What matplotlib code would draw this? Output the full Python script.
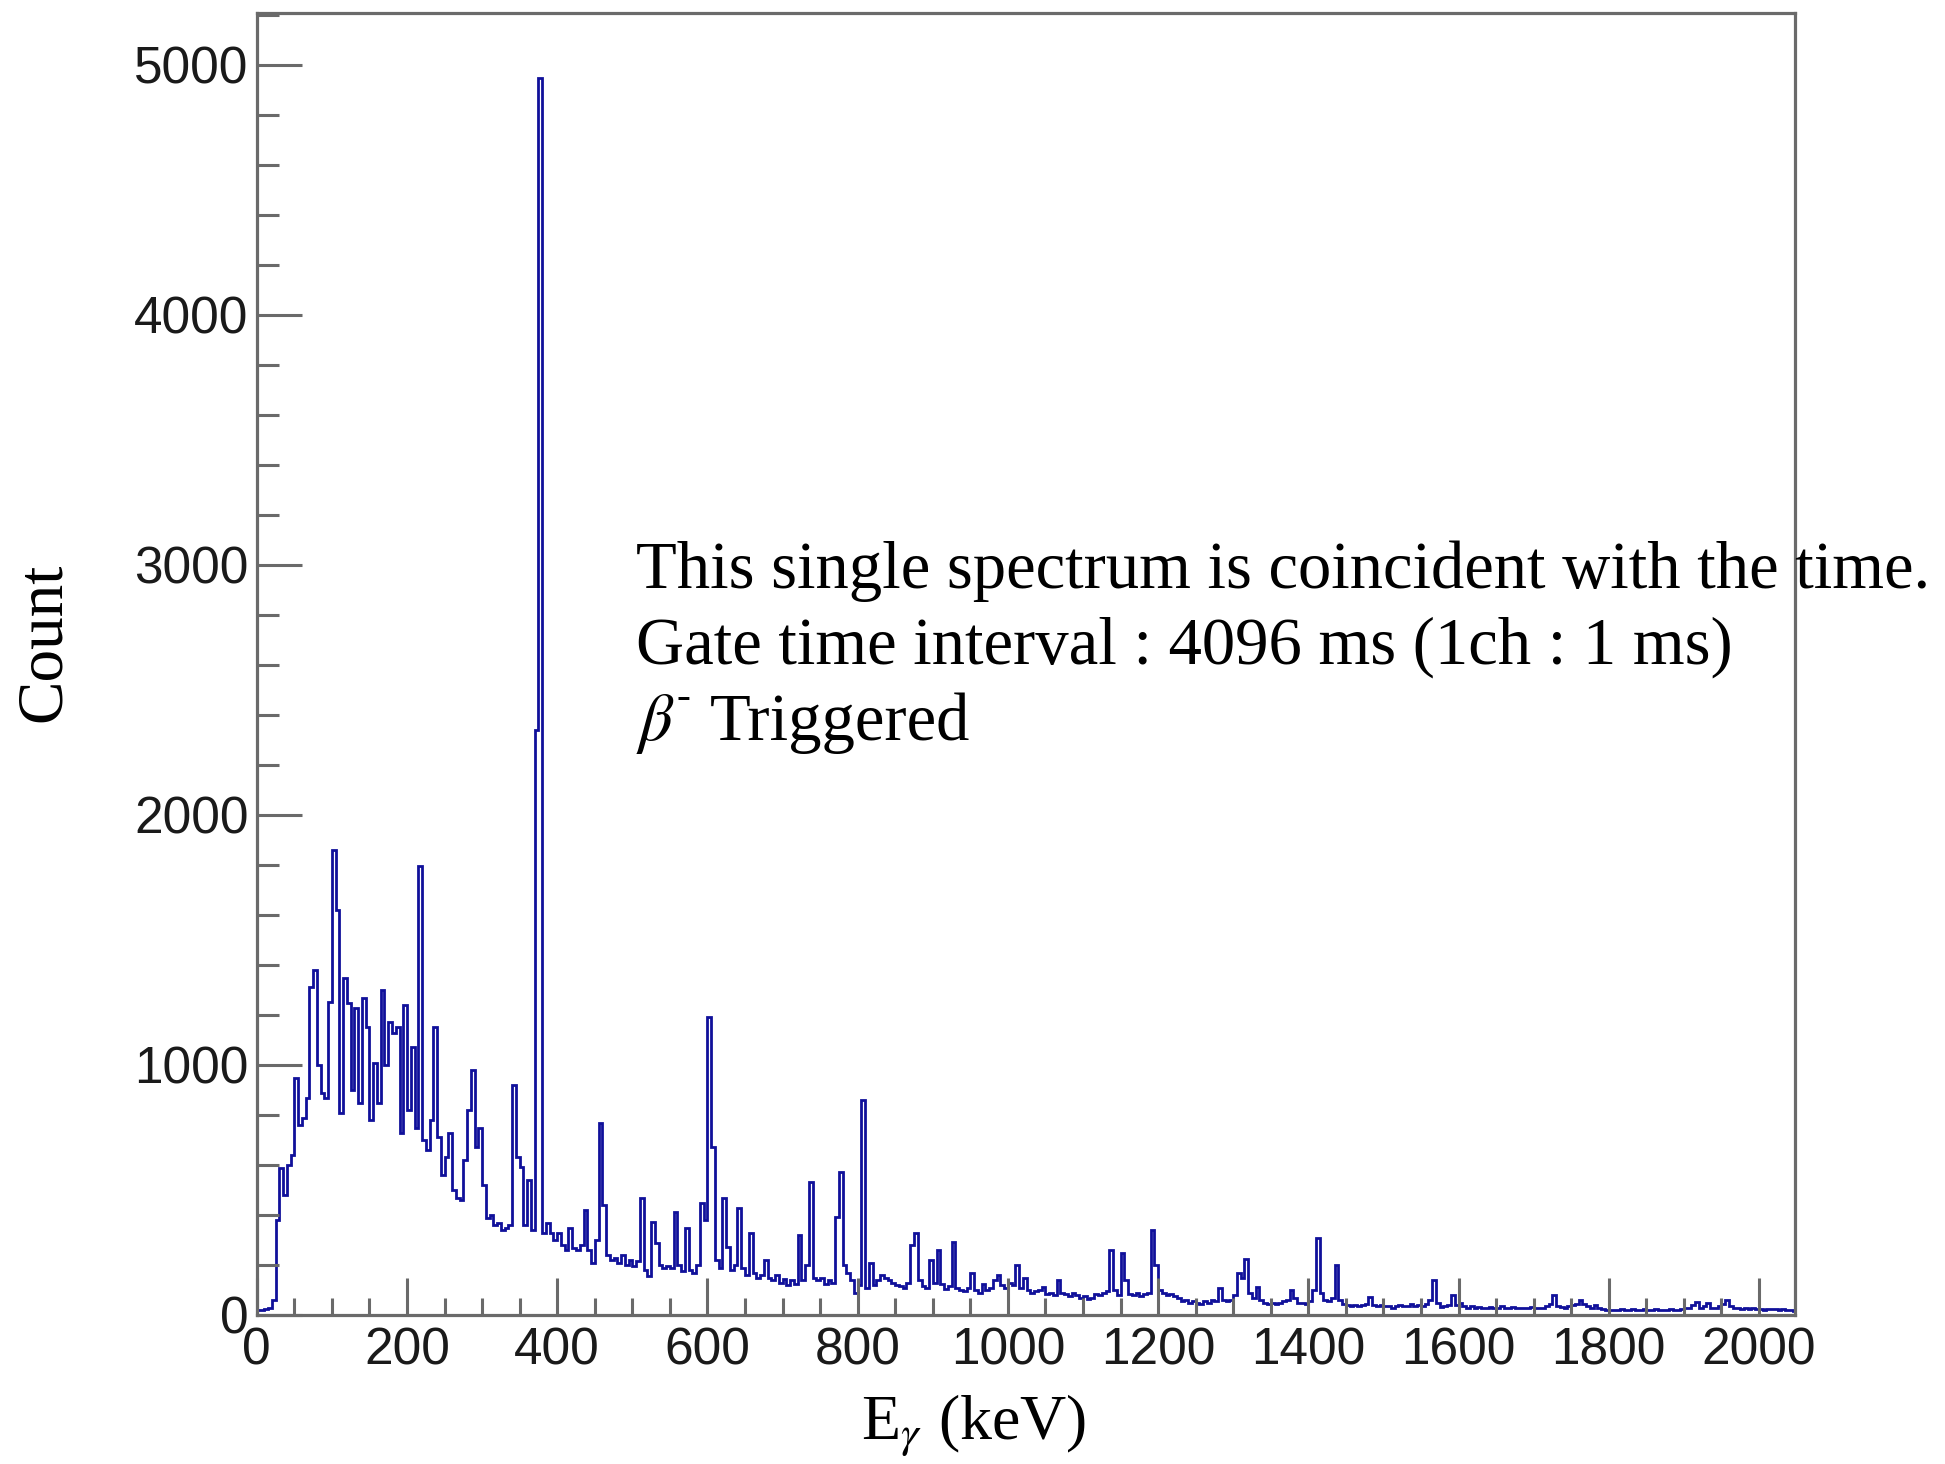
import numpy as np
import matplotlib
matplotlib.use("Agg")
import matplotlib.pyplot as plt
from matplotlib.ticker import MultipleLocator

# ---------------- data (5 keV bins) ----------------
bin_width_keV = 5
counts_0_500 = [
    20, 22, 25, 28, 60, 380, 590, 480, 600, 640,
    950, 760, 790, 870, 1313, 1380, 1000, 890, 870, 1253,
    1860, 1620, 810, 1347, 1247, 900, 1227, 850, 1267, 1153,
    780, 1007, 850, 1300, 1000, 1173, 1127, 1153, 730, 1240,
    820, 1073, 750, 1795, 700, 660, 780, 1153, 713, 560,
    633, 727, 500, 470, 460, 620, 820, 980, 673, 747,
    520, 390, 400, 360, 370, 340, 350, 360, 920, 633,
    593, 360, 540, 340, 2340, 4950, 330, 370, 330, 300,
    330, 280, 260, 350, 270, 260, 280, 420, 260, 210,
    300, 767, 440, 240, 220, 230, 210, 240, 200, 220,
]
counts_500_1000 = [
    195, 215, 467, 180, 155, 373, 287, 200, 190, 195,
    190, 413, 200, 175, 347, 180, 170, 200, 447, 380,
    1193, 673, 220, 190, 467, 273, 180, 200, 427, 190,
    160, 327, 170, 150, 160, 220, 150, 140, 160, 130,
    145, 120, 140, 125, 320, 140, 200, 533, 150, 140,
    150, 125, 140, 130, 393, 573, 200, 170, 140, 90,
    120, 860, 110, 207, 120, 140, 160, 150, 140, 130,
    120, 115, 110, 130, 280, 327, 140, 115, 110, 220,
    130, 260, 125, 105, 115, 293, 110, 100, 95, 110,
    167, 100, 90, 125, 100, 110, 140, 160, 120, 110,
]
counts_1000_1500 = [
    130, 120, 200, 110, 147, 100, 90, 95, 100, 113,
    85, 90, 80, 140, 90, 85, 75, 90, 80, 70,
    75, 65, 70, 85, 80, 90, 95, 260, 100, 80,
    247, 140, 85, 80, 90, 75, 85, 90, 340, 200,
    100, 90, 80, 85, 75, 70, 55, 60, 50, 55,
    50, 45, 55, 50, 60, 55, 107, 60, 55, 60,
    80, 167, 150, 223, 90, 70, 113, 60, 50, 45,
    50, 45, 50, 55, 60, 100, 70, 50, 47, 45,
    55, 100, 310, 87, 60, 55, 70, 200, 60, 45,
    40, 35, 40, 35, 40, 45, 73, 40, 35, 40,
]
counts_1500_2050 = [
    35, 38, 30, 35, 40, 35, 38, 45, 35, 40,
    35, 45, 60, 140, 50, 33, 35, 40, 80, 40,
    50, 35, 30, 35, 30, 32, 28, 30, 33, 28,
    30, 35, 30, 28, 32, 30, 27, 30, 28, 32,
    30, 27, 30, 35, 45, 80, 35, 33, 30, 35,
    40, 45, 60, 45, 35, 30, 40, 30, 25, 22,
    20, 22, 20, 25, 22, 20, 24, 22, 20, 25,
    22, 20, 23, 20, 22, 20, 24, 20, 22, 25,
    30, 28, 40, 53, 30, 35, 47, 30, 28, 35,
    45, 60, 35, 30, 27, 25, 27, 25, 27, 24,
    25, 22, 25, 23, 25, 22, 24, 20, 22, 18,
]
x_tick_values = list(range(0, 2001, 200))
y_tick_values = list(range(0, 5001, 1000))
annotation_lines = [
    "This single spectrum is coincident with the time.",
    "Gate time interval : 4096 ms (1ch : 1 ms)",
]

counts = np.array(counts_0_500 + counts_500_1000 + counts_1000_1500 + counts_1500_2050, dtype=float)
edges = np.arange(len(counts) + 1) * bin_width_keV

# ---------------- figure ----------------
plt.rcParams['mathtext.fontset'] = 'stix'
W, H = 1945, 1464
fig = plt.figure(figsize=(W / 100, H / 100), dpi=100)
L, R, B, T = 256.8, 1795, 1315, 13
ax = fig.add_axes([L / W, 1 - B / H, (R - L) / W, (B - T) / H])

line_color = "#10109a"
ax.stairs(counts, edges, color=line_color, lw=2.0, baseline=None)

ax.set_xlim(0, 2048)
ax.set_ylim(0, 5208)

spine_color = "#6a6a6a"
for s in ax.spines.values():
    s.set_color(spine_color)
    s.set_linewidth(2.3)

ax.set_xticks(x_tick_values)
ax.set_yticks(y_tick_values)
ax.xaxis.set_minor_locator(MultipleLocator(50))
ax.yaxis.set_minor_locator(MultipleLocator(200))
ax.tick_params(axis='both', which='both', direction='in', top=False, right=False,
               color=spine_color, width=2.2, labelcolor="#1a1a1a")
ax.tick_params(axis='x', which='major', length=26.6, pad=8)
ax.tick_params(axis='x', which='minor', length=12.2)
ax.tick_params(axis='y', which='major', length=32.4, pad=6)
ax.tick_params(axis='y', which='minor', length=15.8)
for lab in ax.get_xticklabels() + ax.get_yticklabels():
    lab.set_fontfamily('Liberation Sans')
    lab.set_fontsize(37)

serif = ['Liberation Serif', 'DejaVu Serif']
fig.text(44 / W, 1 - 642 / H, "Count", rotation=90, ha='center', va='center',
         fontsize=47, family=serif)
fig.text(974 / W, 1 - 1440 / H, r"E$_{\gamma}$ (keV)", ha='center', va='baseline',
         fontsize=46, family=serif)

x0 = 636 / W
fig.text(x0, 1 - 588 / H, annotation_lines[0], ha='left', va='baseline', fontsize=48, family=serif)
fig.text(x0, 1 - 664 / H, annotation_lines[1], ha='left', va='baseline', fontsize=48, family=serif)
fig.text(x0, 1 - 740 / H, r"$\beta$", ha='left', va='baseline', fontsize=48, family=serif)
fig.text(677 / W, 1 - 708 / H, "-", ha='left', va='baseline', fontsize=30, family=serif)
fig.text(710 / W, 1 - 740 / H, "Triggered", ha='left', va='baseline', fontsize=48, family=serif)

fig.savefig("out.png", dpi=100, facecolor='white')
